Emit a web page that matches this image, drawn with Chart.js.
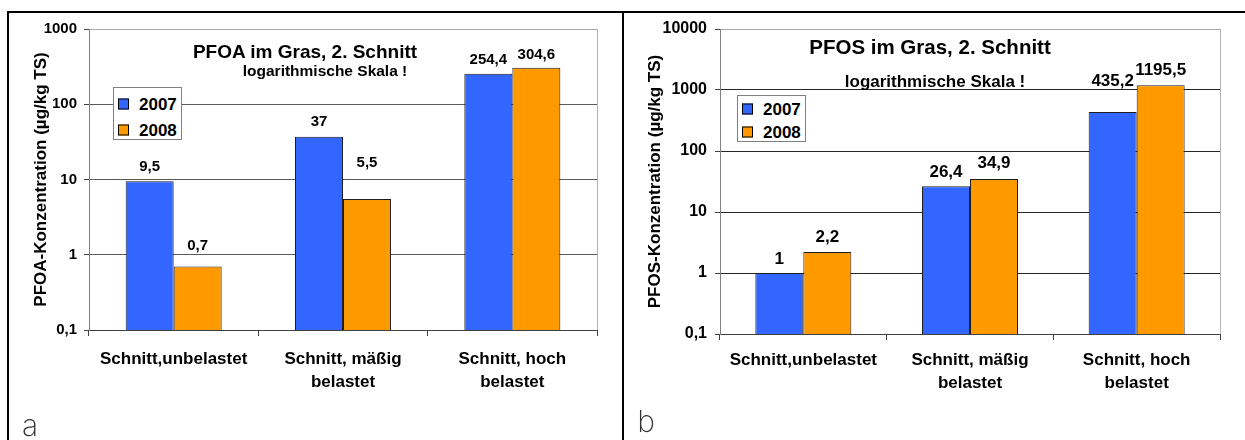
<!DOCTYPE html>
<html>
<head>
<meta charset="utf-8">
<script src="https://cdn.jsdelivr.net/npm/chart.js@4/dist/chart.umd.min.js"></script>
<style>
  body { margin: 0; background: #fff; }
  #page { position: relative; width: 1245px; height: 440px; overflow: hidden; background: #fff;
          font-family: "Liberation Sans", Arial, sans-serif; }
  canvas { position: absolute; top: 0; }
  .rule { position: absolute; background: #000; z-index: 3; }
  .txt { position: absolute; transform: translate(-50%, -50%); white-space: nowrap;
         font-weight: bold; color: #000; z-index: 2; }
  .legend { position: absolute; background: #fff; border: 1px solid #808080; box-sizing: border-box; z-index: 2; }
  .legend .row { position: absolute; left: 4px; display: flex; align-items: center;
                 font-weight: bold; font-size: 17px; line-height: 1; transform: translateY(-50%); }
  .legend .sw { width: 11px; height: 11px; border: 1px solid #000; box-sizing: border-box; margin-right: 10px; }
  .tag { position: absolute; transform: translate(-50%, -50%); font-family: Inter, "DejaVu Sans", sans-serif;
         font-weight: 200; font-size: 30px; color: #333; z-index: 2; }
</style>
</head>
<body>
<div id="page">
  <canvas id="pfoaChart" width="622" height="440" style="left:0"></canvas>
  <canvas id="pfosChart" width="621" height="440" style="left:624px"></canvas>

  <div class="rule" style="left:7px;top:11px;width:1238px;height:2px"></div>
  <div class="rule" style="left:7px;top:11px;width:2px;height:429px"></div>
  <div class="rule" style="left:622px;top:11px;width:2px;height:429px"></div>

  <div class="txt" style="left:305px;top:52px;font-size:19px">PFOA im Gras, 2. Schnitt</div>
  <div class="txt" style="left:325px;top:71px;font-size:15.5px">logarithmische Skala !</div>
  <div class="txt" style="left:930px;top:47px;font-size:20.5px">PFOS im Gras, 2. Schnitt</div>
  <div class="txt" style="left:935px;top:82px;font-size:17px">logarithmische Skala !</div>

  <div class="legend" id="legendA" style="left:113px;top:87px;width:69px;height:53px"></div>
  <div class="legend" id="legendB" style="left:737px;top:95px;width:69px;height:47px"></div>

  <div class="tag" style="left:30px;top:425px">a</div>
  <div class="tag" style="left:646px;top:421px">b</div>
</div>

<script>
// Sampling sites (x axis)
const categories = [["Schnitt,unbelastet"], ["Schnitt, mäßig", "belastet"], ["Schnitt, hoch", "belastet"]];
const seriesNames = ["2007", "2008"];
const seriesColors = ["#3366ff", "#ff9900"];

// PFOA in grass, µg/kg TS
const pfoa2007 = [9.5, 37, 254.4];
const pfoa2008 = [0.7, 5.5, 304.6];

// PFOS in grass, µg/kg TS
const pfos2007 = [1, 26.4, 435.2];
const pfos2008 = [2.2, 34.9, 1195.5];

// Decade ticks of the logarithmic axes
const pfoaTicks = [0.1, 1, 10, 100, 1000];
const pfosTicks = [0.1, 1, 10, 100, 1000, 10000];

const FONT = '"Liberation Sans", Arial, sans-serif';
const fmt = v => String(v).replace('.', ',');

// Value labels above every bar
const valueLabels = {
  id: 'valueLabels',
  afterDatasetsDraw(chart, args, opts) {
    const ctx = chart.ctx;
    ctx.save();
    ctx.font = `bold ${opts.size}px ${FONT}`;
    ctx.fillStyle = '#000';
    ctx.textAlign = 'center';
    ctx.textBaseline = 'middle';
    chart.data.datasets.forEach((ds, di) => {
      chart.getDatasetMeta(di).data.forEach((bar, i) => {
        const lift = (opts.lift && opts.lift[di] && opts.lift[di][i]) || 14;
        ctx.fillText(fmt(ds.data[i]), bar.x, bar.y - lift);
      });
    });
    ctx.restore();
  }
};

// Light frame on the right edge of the plot area
const plotFrame = {
  id: 'plotFrame',
  beforeDatasetsDraw(chart) {
    const { ctx, chartArea } = chart;
    ctx.save();
    ctx.strokeStyle = '#b4b4b4';
    ctx.lineWidth = 1;
    ctx.beginPath();
    ctx.moveTo(Math.round(chartArea.right) + 0.5, chartArea.top);
    ctx.lineTo(Math.round(chartArea.right) + 0.5, chartArea.bottom);
    ctx.stroke();
    ctx.restore();
  }
};

function buildLegend(id, rows) {
  const box = document.getElementById(id);
  seriesNames.forEach((name, i) => {
    const row = document.createElement('div');
    row.className = 'row';
    row.style.top = rows[i] + 'px';
    row.innerHTML = `<span class="sw" style="background:${seriesColors[i]}"></span>${name}`;
    box.appendChild(row);
  });
}

function buildChart(id, o) {
  const maxTick = o.ticks[o.ticks.length - 1];
  const dataset = (i, data) => ({
    label: seriesNames[i],
    data,
    backgroundColor: seriesColors[i],
    borderColor: '#1e1e1e',
    borderWidth: 1,
    borderSkipped: 'start',
    categoryPercentage: o.cat,
    barPercentage: 1
  });
  return new Chart(document.getElementById(id), {
    type: 'bar',
    data: { labels: categories, datasets: [dataset(0, o.a), dataset(1, o.b)] },
    options: {
      responsive: false,
      animation: false,
      devicePixelRatio: 1,
      layout: { padding: o.pad },
      plugins: {
        legend: { display: false },
        tooltip: { enabled: false },
        valueLabels: { size: o.labelSize, lift: o.lift }
      },
      scales: {
        x: {
          grid: { display: true, drawOnChartArea: false, offset: true, tickLength: 6, color: '#404040' },
          border: { color: '#404040' },
          ticks: { font: { family: FONT, weight: 'bold', size: 17, lineHeight: 1.4 }, color: '#000',
                   padding: o.xPad, maxRotation: 0, autoSkip: false },
          afterFit(s) { s.height = o.xH; }
        },
        y: {
          type: 'logarithmic',
          min: o.ticks[0],
          max: maxTick,
          afterBuildTicks(s) { s.ticks = o.ticks.map(v => ({ value: v })); },
          ticks: { callback: v => fmt(v), font: { family: FONT, weight: 'bold', size: o.tickSize },
                   color: '#000', padding: o.yPad },
          grid: { color: c => (c.tick && c.tick.value === maxTick) ? '#a8a8a8' : o.gridColor,
                  tickLength: 5, tickColor: '#404040' },
          border: { color: '#808080' },
          title: { display: true, text: o.yTitle, color: '#000',
                   font: { family: FONT, weight: 'bold', size: 17 },
                   padding: { top: o.titlePad, bottom: 0 } },
          afterFit(s) { s.width = o.yW; }
        }
      }
    },
    plugins: [valueLabels, plotFrame]
  });
}

buildChart('pfoaChart', {
  a: pfoa2007, b: pfoa2008, ticks: pfoaTicks,
  yTitle: 'PFOA-Konzentration (µg/kg TS)',
  pad: { left: 0, top: 29, right: 25, bottom: 20 },
  yW: 89, xH: 90, xPad: 11, yPad: 7, titlePad: 31,
  cat: 0.567, tickSize: 15, labelSize: 15, gridColor: '#5a5a5a',
  lift: [[14, 15, 14], [21, 36, 13]]
});

buildChart('pfosChart', {
  a: pfos2007, b: pfos2008, ticks: pfosTicks,
  yTitle: 'PFOS-Konzentration (µg/kg TS)',
  pad: { left: 0, top: 29, right: 25, bottom: 16 },
  yW: 96, xH: 90, xPad: 8, yPad: 8, titlePad: 21,
  cat: 0.576, tickSize: 16, labelSize: 17, gridColor: '#262626',
  lift: [[14, 14, 31], [15, 16, 15]]
});

buildLegend('legendA', [16, 42]);
buildLegend('legendB', [13, 36]);
</script>
</body>
</html>
